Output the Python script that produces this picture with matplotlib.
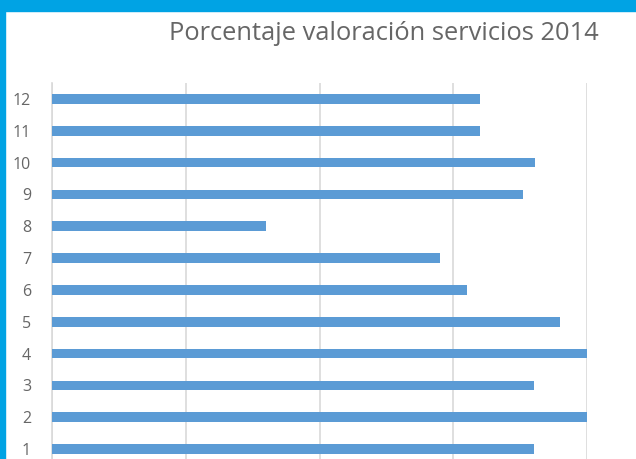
import matplotlib
matplotlib.use("Agg")
import matplotlib.pyplot as plt
from matplotlib.patches import Rectangle

# input data
categories = [1, 2, 3, 4, 5, 6, 7, 8, 9, 10, 11, 12]
values = [90, 100, 90, 100, 95, 77.5, 72.5, 40, 88, 90.3, 80, 80]
title = "Porcentaje valoración servicios 2014"

bar_color = "#5B9BD5"
grid_color = "#D9D9D9"
text_color = "#666666"
frame_color = "#00A3E4"

fig = plt.figure(figsize=(6.36, 4.59), dpi=100)
ax = fig.add_axes([52 / 636, -6 / 459, 535 / 636, 382 / 459])

ax.barh(categories, values, height=0.3, color=bar_color, zorder=3)

ax.set_xlim(0, 100)
ax.set_ylim(0.5, 12.5)
ax.set_xticks([0, 25, 50, 75, 100])
ax.set_xticklabels([])
ax.tick_params(axis="x", length=0)
ax.set_yticks(categories)
ax.set_yticklabels([str(c) for c in categories], color=text_color, fontsize=11.5,
                   family=["Open Sans", "DejaVu Sans"])
ax.tick_params(axis="y", length=0, pad=15)
ax.grid(axis="x", color=grid_color, linewidth=1.2, zorder=0)

for s in ["top", "right", "bottom"]:
    ax.spines[s].set_visible(False)
ax.spines["left"].set_color(grid_color)
ax.spines["left"].set_linewidth(1.2)

fig.text(384 / 636, 1 - 34 / 459, title, ha="center", va="center", fontsize=18.4,
         color=text_color, family=["Open Sans", "DejaVu Sans"])

# blue frame around the slide
fig.patches.append(Rectangle((0, 1 - 11 / 459), 1, 11 / 459, transform=fig.transFigure,
                             color=frame_color, zorder=10))
fig.patches.append(Rectangle((0, 0), 5 / 636, 1, transform=fig.transFigure,
                             color=frame_color, zorder=10))

fig.savefig("out.png", dpi=100)
